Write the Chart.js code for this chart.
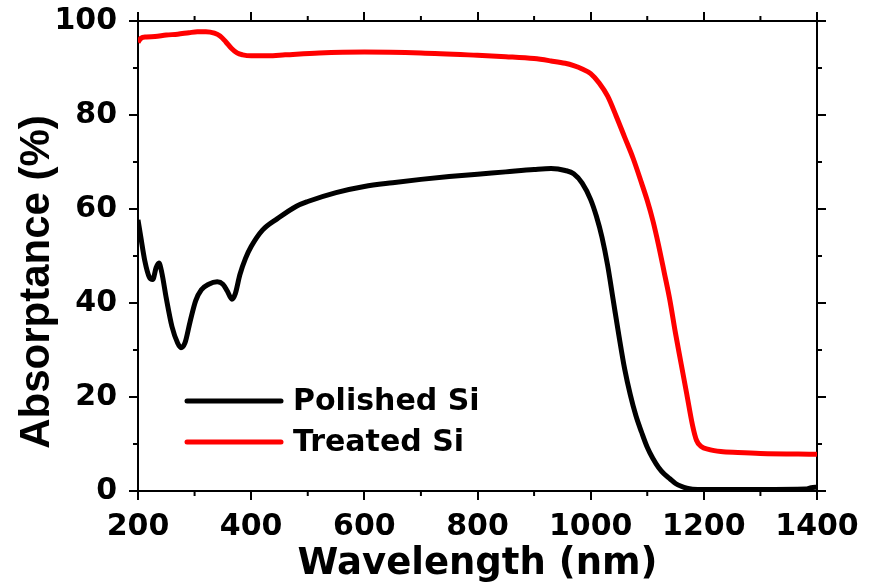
<!DOCTYPE html>
<html>
<head>
<meta charset="utf-8">
<title>Absorptance vs Wavelength</title>
<script src="https://cdn.jsdelivr.net/npm/chart.js@4.4.1/dist/chart.umd.min.js"></script>
<style>
  html, body { margin: 0; padding: 0; background: #fff; }
  #wrap { width: 871px; height: 588px; }
</style>
</head>
<body>
<div id="wrap"><canvas id="absChart" width="871" height="588"></canvas></div>
<script>
// ── Data ──────────────────────────────────────────────
const polishedNm = [200, 205, 212, 220, 226, 232, 237, 242, 250, 260, 270, 276, 283, 292, 302, 312,
  325, 340, 350, 358, 366, 372, 380, 390, 400, 420, 447, 480, 500, 550, 600, 650, 700, 750, 800,
  850, 900, 930, 955, 970, 985, 1000, 1010, 1020, 1030, 1040, 1050, 1060, 1070, 1080, 1090, 1100,
  1110, 1120, 1130, 1140, 1150, 1160, 1170, 1180, 1200, 1300, 1380, 1390, 1400];
const polishedAbs = [57.7, 54, 49, 45.5, 45, 47.5, 48.5, 46.5, 41, 35, 31.5, 30.5, 31.5, 36, 40.5, 42.8,
  44, 44.5, 44, 42.5, 40.8, 42, 46, 49.5, 52, 55.5, 58, 60.6, 61.6, 63.5, 64.8, 65.6, 66.3, 66.9, 67.4,
  67.9, 68.4, 68.6, 68.2, 67.5, 65.5, 62, 58.5, 54, 48, 40.5, 33, 26, 20.5, 16, 12.5, 9.3,
  6.9, 5, 3.6, 2.6, 1.6, 1.0, 0.6, 0.4, 0.3, 0.3, 0.4, 0.7, 0.8];

const treatedNm = [200, 205, 215, 230, 250, 270, 290, 305, 320, 335, 345, 355, 365, 375, 385, 400,
  430, 460, 520, 600, 700, 800, 850, 900, 930, 955, 970, 985, 1000, 1015, 1030, 1045, 1060, 1075,
  1090, 1100, 1110, 1120, 1130, 1140, 1150, 1160, 1170, 1180, 1187, 1195, 1210, 1230, 1260, 1300, 1400];
const treatedAbs = [95.5, 96.3, 96.6, 96.7, 97.0, 97.2, 97.5, 97.7, 97.7, 97.4, 96.8, 95.6, 94.2, 93.2, 92.8, 92.6,
  92.6, 92.8, 93.2, 93.4, 93.2, 92.7, 92.4, 92.0, 91.5, 91.0, 90.5, 89.8, 88.8, 86.8, 84, 79.8, 75.3, 70.8,
  65.5, 61.8, 57.5, 52.3, 46.5, 40.6, 33.5, 27, 20.5, 14, 10.8, 9.5, 8.8, 8.4, 8.2, 8.0, 7.8];

const seriesLabels = ['Polished Si', 'Treated Si'];
const seriesColors = ['#000000', '#ff0000'];

const xTicksMajor = 200;   // nm
const yTicksMajor = 20;    // %

// ── Helpers ───────────────────────────────────────────
function toPoints(xs, ys) {
  return xs.map((x, i) => ({ x, y: ys[i] }));
}

const tickFont = { family: "'DejaVu Sans', sans-serif", size: 30, weight: 'bold' };

function frameGrid() {
  return { drawOnChartArea: false, drawTicks: true, tickLength: 9, color: '#000', lineWidth: 2 };
}

// keep label overhang from shrinking the plot box
function fixSize(prop, size) {
  return function(scale) {
    scale[prop] = size;
    scale.paddingTop = scale.paddingBottom = scale.paddingLeft = scale.paddingRight = 0;
  };
}

// ── Plugin: minor ticks, y title, in-plot legend ──────
const decorPlugin = {
  id: 'decor',
  afterDraw(chart) {
    const ctx = chart.ctx;
    const area = chart.chartArea;
    ctx.save();
    ctx.strokeStyle = '#000';
    ctx.lineWidth = 2;

    // minor ticks halfway between majors, on all four sides
    Object.values(chart.scales).forEach(scale => {
      const t = scale.ticks;
      for (let i = 0; i < t.length - 1; i++) {
        const mid = (t[i].value + t[i + 1].value) / 2;
        const p = scale.getPixelForValue(mid);
        ctx.beginPath();
        if (scale.position === 'bottom') { ctx.moveTo(p, area.bottom); ctx.lineTo(p, area.bottom + 5); }
        if (scale.position === 'top')    { ctx.moveTo(p, area.top);    ctx.lineTo(p, area.top - 5); }
        if (scale.position === 'left')   { ctx.moveTo(area.left, p);   ctx.lineTo(area.left - 5, p); }
        if (scale.position === 'right')  { ctx.moveTo(area.right, p);  ctx.lineTo(area.right + 5, p); }
        ctx.stroke();
      }
    });

    // y axis title
    ctx.save();
    ctx.translate(37, 282);
    ctx.rotate(-Math.PI / 2);
    ctx.fillStyle = '#000';
    ctx.font = "bold 42px 'Liberation Sans', Arial, sans-serif";
    ctx.textAlign = 'center';
    ctx.textBaseline = 'middle';
    ctx.fillText('Absorptance (%)', 0, 0);
    ctx.restore();

    // legend inside the plot
    const rows = [401, 442];
    chart.data.datasets.forEach((ds, i) => {
      const y = rows[i];
      ctx.strokeStyle = ds.borderColor;
      ctx.lineWidth = 5;
      ctx.lineCap = 'round';
      ctx.beginPath();
      ctx.moveTo(187, y);
      ctx.lineTo(281, y);
      ctx.stroke();
      ctx.fillStyle = '#000';
      ctx.font = "bold 30px 'DejaVu Sans', sans-serif";
      ctx.textAlign = 'left';
      ctx.textBaseline = 'middle';
      ctx.fillText(ds.label, 293, y + 1);
    });
    ctx.restore();
  }
};

// ── Chart ─────────────────────────────────────────────
new Chart(document.getElementById('absChart'), {
  type: 'line',
  data: {
    datasets: [
      { label: seriesLabels[0], data: toPoints(polishedNm, polishedAbs), borderColor: seriesColors[0] },
      { label: seriesLabels[1], data: toPoints(treatedNm, treatedAbs), borderColor: seriesColors[1] },
    ].map(ds => ({ ...ds, borderWidth: 5, pointRadius: 0, fill: false, cubicInterpolationMode: 'monotone' }))
  },
  options: {
    responsive: false,
    animation: false,
    layout: { padding: 0 },
    plugins: { legend: { display: false }, tooltip: { enabled: false } },
    scales: {
      x: {
        type: 'linear', position: 'bottom', min: 200, max: 1400,
        ticks: { stepSize: xTicksMajor, color: '#000', font: tickFont, padding: 9, maxRotation: 0,
                 callback: v => String(v) },
        grid: frameGrid(),
        border: { color: '#000', width: 2 },
        title: {
          display: true, text: 'Wavelength (nm)', color: '#000',
          font: { family: "'DejaVu Sans', sans-serif", size: 37, weight: 'bold' },
          padding: { top: 0, bottom: 1 }
        },
        afterFit: fixSize('height', 97)
      },
      xTop: {
        type: 'linear', position: 'top', min: 200, max: 1400,
        ticks: { stepSize: xTicksMajor, display: false },
        grid: frameGrid(),
        border: { color: '#000', width: 2 },
        afterFit: fixSize('height', 21)
      },
      y: {
        type: 'linear', position: 'left', min: 0, max: 100,
        ticks: { stepSize: yTicksMajor, color: '#000', font: tickFont, padding: 12,
                 callback: v => String(v) },
        grid: frameGrid(),
        border: { color: '#000', width: 2 },
        afterFit: fixSize('width', 138)
      },
      yRight: {
        type: 'linear', position: 'right', min: 0, max: 100,
        ticks: { stepSize: yTicksMajor, display: false },
        grid: frameGrid(),
        border: { color: '#000', width: 2 },
        afterFit: fixSize('width', 54)
      }
    }
  },
  plugins: [decorPlugin]
});
</script>
</body>
</html>
